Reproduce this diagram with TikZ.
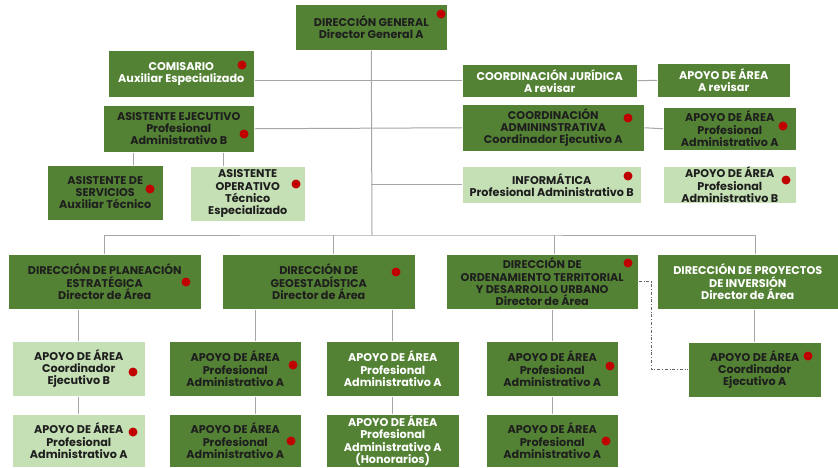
\documentclass[tikz,border=0pt]{standalone}
\usepackage{fontspec}
\setmainfont{Poppins}
\usepackage{tikz}
\usetikzlibrary{positioning}
\definecolor{darkgreen}{HTML}{548235}
\definecolor{lightgreen}{HTML}{C5E0B4}
\definecolor{dotred}{HTML}{C00000}
\definecolor{linegray}{HTML}{A6A6A6}
\definecolor{textdark}{HTML}{1E1E1E}
\tikzset{
    box/.style={anchor=north west,fill=darkgreen,draw=white,line width=0.5pt,align=center,inner sep=0pt,
        text=textdark,font=\fontsize{11.2}{12.2}\selectfont\bfseries},
    lightbox/.style={box,fill=lightgreen},
    wtext/.style={text=white},
    link/.style={draw=linegray,line width=1pt},
    dashlink/.style={draw=black!60,line width=0.6pt,dash dot},
    reddot/.style={fill=dotred}
}
\begin{document}
\begin{tikzpicture}[x=1pt,y=-1pt]
    \useasboundingbox (0,0) rectangle (838,467);

    % top level
    \node[box,minimum width=152pt,minimum height=46pt] (dg) at (295,4) {DIRECCIÓN GENERAL\\Director General A};
    \node[box,wtext,minimum width=146pt,minimum height=47pt] (com) at (108,50) {COMISARIO\\Auxiliar Especializado};
    \node[box,minimum width=151pt,minimum height=47pt] (ae) at (103,105) {ASISTENTE EJECUTIVO\\Profesional\\Administrativo B};
    \node[box,minimum width=116pt,minimum height=55pt] (serv) at (47,165) {ASISTENTE DE\\SERVICIOS\\Auxiliar Técnico};
    \node[lightbox,minimum width=115pt,minimum height=55pt] (oper) at (190,166) {ASISTENTE\\OPERATIVO\\Técnico\\Especializado};
    \node[box,wtext,minimum width=175pt,minimum height=33pt] (cj) at (462,64) {COORDINACIÓN JURÍDICA\\A revisar};
    \node[box,wtext,minimum width=133pt,minimum height=34pt] (apr) at (657,63) {APOYO DE ÁREA\\A revisar};
    \node[box,minimum width=182pt,minimum height=47pt] (ca) at (462,104) {COORDINACIÓN\\ADMININSTRATIVA\\Coordinador Ejecutivo A};
    \node[box,minimum width=133pt,minimum height=43pt] (apa) at (663,107) {APOYO DE ÁREA\\Profesional\\Administrativo A};
    \node[lightbox,minimum width=179pt,minimum height=37pt] (info) at (462,166) {INFORMÁTICA\\Profesional Administrativo B};
    \node[lightbox,minimum width=133pt,minimum height=37pt] (apb) at (663,166) {APOYO DE ÁREA\\Profesional\\Administrativo B};

    % direcciones de area
    \node[box,minimum width=193pt,minimum height=55pt] (dpe) at (8,254) {DIRECCIÓN DE PLANEACIÓN\\ESTRATÉGICA\\Director de Área};
    \node[box,minimum width=193pt,minimum height=55pt] (geo) at (222,254) {DIRECCIÓN DE\\GEOESTADÍSTICA\\Director de Área};
    \node[box,minimum width=192pt,minimum height=55pt] (otdu) at (446,254) {DIRECCIÓN DE\\ORDENAMIENTO TERRITORIAL\\Y DESARROLLO URBANO\\Director de Área};
    \node[box,wtext,minimum width=181pt,minimum height=55pt] (dpi) at (657,254) {DIRECCIÓN DE PROYECTOS\\DE INVERSIÓN\\Director de Área};

    % apoyos de area
    \node[lightbox,minimum width=133pt,minimum height=55pt] (pea1) at (12,341) {APOYO DE ÁREA\\Coordinador\\Ejecutivo B};
    \node[lightbox,minimum width=133pt,minimum height=53pt] (pea2) at (12,414) {APOYO DE ÁREA\\Profesional\\Administrativo A};
    \node[box,minimum width=132pt,minimum height=55pt] (geoa1) at (169,341) {APOYO DE ÁREA\\Profesional\\Administrativo A};
    \node[box,minimum width=132pt,minimum height=53pt] (geoa3) at (169,414) {APOYO DE ÁREA\\Profesional\\Administrativo A};
    \node[box,wtext,minimum width=133pt,minimum height=55pt] (geoa2) at (326,341) {APOYO DE ÁREA\\Profesional\\Administrativo A};
    \node[box,wtext,minimum width=133pt,minimum height=53pt] (geoa4) at (326,414) {APOYO DE ÁREA\\Profesional\\Administrativo A\\(Honorarios)};
    \node[box,minimum width=132pt,minimum height=55pt] (otdua1) at (486,341) {APOYO DE ÁREA\\Profesional\\Administrativo A};
    \node[box,minimum width=132pt,minimum height=53pt] (otdua2) at (486,414) {APOYO DE ÁREA\\Profesional\\Administrativo A};
    \node[box,minimum width=133pt,minimum height=55pt] (dpia1) at (688,342) {APOYO DE ÁREA\\Coordinador\\Ejecutivo A};

    % lines
    \coordinate (bus) at (372,235);
    \draw[link] (dg.south) -- (bus);
    \draw[link] (com.east |- cj.west) -- (cj.west);
    \draw[link] (cj.east) -- (apr.west);
    \draw[link] (ae.east) -- (ca.west);
    \draw[link] (ca.east) -- (apa.west);
    \draw[link] (info.west -| dg.south) -- (info.west);
    \draw[link] ([xshift=-45.5pt]ae.south) -- ([xshift=28pt]serv.north);
    \draw[link] ([xshift=44.5pt]ae.south) -- ([xshift=-24.5pt]oper.north);
    \draw[link] (dpe.north) |- (bus) -| ([xshift=7.5pt]dpi.north);
    \draw[link] ([xshift=14.5pt]geo.north) -- ++(0,-19);
    \draw[link] ([xshift=12pt]otdu.north) -- ++(0,-19);
    \draw[link] (pea1.north |- dpe.south) -- (pea1.north);
    \draw[link] (pea1.south) -- (pea2.north);
    \draw[link] ([xshift=20pt]geoa1.north |- geo.south) -- ([xshift=20pt]geoa1.north);
    \draw[link] ([xshift=20pt]geoa1.south) -- ([xshift=20pt]geoa3.north);
    \draw[link] (geoa2.north |- geo.south) -- (geoa2.north);
    \draw[link] (geoa2.south) -- (geoa4.north);
    \draw[link] (otdua1.north |- otdu.south) -- (otdua1.north);
    \draw[link] (otdua1.south) -- (otdua2.north);
    \draw[link] (dpia1.north |- dpi.south) -- (dpia1.north);
    \draw[dashlink] (otdu.east) -- ++(13,0) |- (dpia1.west);

    % red marks
    \foreach \px/\py in {441/14,242/65,244/134,150/189,296/184,628/118,783/126,628/176,786/180,
        186/282,396/272,628/263,133/372,133/432,293/365,291/441,610/366,606/441,808/356}
        \fill[reddot] (\px,\py) circle (4.5pt);
\end{tikzpicture}
\end{document}
